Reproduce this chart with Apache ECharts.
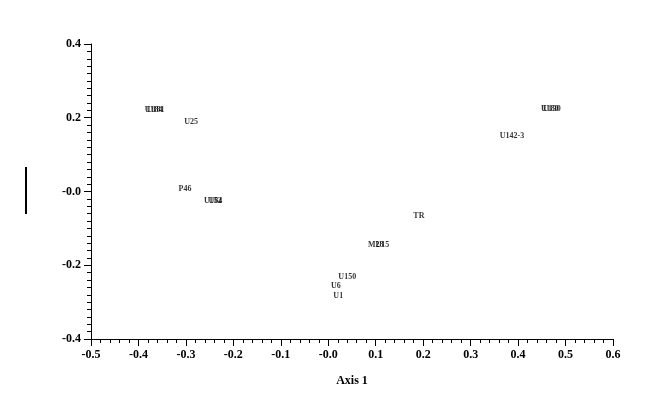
<!DOCTYPE html>
<html><head><meta charset="utf-8">
<script src="https://cdn.jsdelivr.net/npm/echarts@6/dist/echarts.min.js"></script>
<style>html,body{margin:0;padding:0;background:#fff}#c{width:664px;height:413px}</style>
</head><body><div id="c"></div>
<script>
const pointLabels = ['U184','U181','U25','P46','U152','U84','M28','U15','U150','U6','U1','TR','U142-3','U180','U130'];
const xValues = [-0.368,-0.364,-0.289,-0.302,-0.243,-0.238,0.100,0.114,0.040,0.016,0.021,0.191,0.387,0.467,0.471];
const yValues = [0.221,0.221,0.188,0.007,-0.026,-0.026,-0.145,-0.145,-0.232,-0.256,-0.283,-0.066,0.150,0.224,0.224];
const xTicks = {min:-0.5, max:0.6, interval:0.1};
const yTicks = {min:-0.4, max:0.4, interval:0.2};
const xAxisName = 'Axis 1';

const font = '"Liberation Serif", "Times New Roman", serif';
const fmt = v => Math.abs(v) < 1e-9 ? '-0.0' : v.toFixed(1);
const data = pointLabels.map((n,i)=>({name:n, value:[xValues[i], yValues[i]]}));

const chart = echarts.init(document.getElementById('c'), null, {renderer:'canvas'});
chart.setOption({
  animation:false,
  backgroundColor:'#fff',
  grid:{left:91, right:51, top:44, bottom:74, containLabel:false},
  xAxis:{
    type:'value', min:xTicks.min, max:xTicks.max, interval:xTicks.interval,
    name:xAxisName, nameLocation:'middle', nameGap:36,
    nameTextStyle:{fontFamily:font, fontWeight:'bold', fontSize:12, color:'#000'},
    axisLine:{onZero:false, lineStyle:{color:'#000', width:1}},
    axisTick:{inside:false, length:7, lineStyle:{color:'#000'}},
    minorTick:{show:true, splitNumber:5, length:4, lineStyle:{color:'#000'}},
    splitLine:{show:false}, minorSplitLine:{show:false},
    axisLabel:{formatter:fmt, fontFamily:font, fontWeight:'bold', fontSize:12, color:'#000', margin:10}
  },
  yAxis:{
    type:'value', min:yTicks.min, max:yTicks.max, interval:yTicks.interval,
    axisLine:{onZero:false, lineStyle:{color:'#000', width:1}},
    axisTick:{inside:false, length:7, lineStyle:{color:'#000'}},
    minorTick:{show:true, splitNumber:10, length:4, lineStyle:{color:'#000'}},
    splitLine:{show:false}, minorSplitLine:{show:false},
    axisLabel:{formatter:fmt, fontFamily:font, fontWeight:'bold', fontSize:12, color:'#000', margin:10}
  },
  graphic:[{type:'rect', left:25, top:167, shape:{width:2, height:47}, style:{fill:'#000'}}],
  series:[{
    type:'scatter', data:data, symbolSize:1,
    itemStyle:{color:'rgba(0,0,0,0)'},
    label:{show:true, position:'inside', formatter:p=>p.name, fontFamily:font, fontWeight:'bold', fontSize:8, color:'#000'},
    emphasis:{disabled:true}
  }]
});
</script></body></html>
